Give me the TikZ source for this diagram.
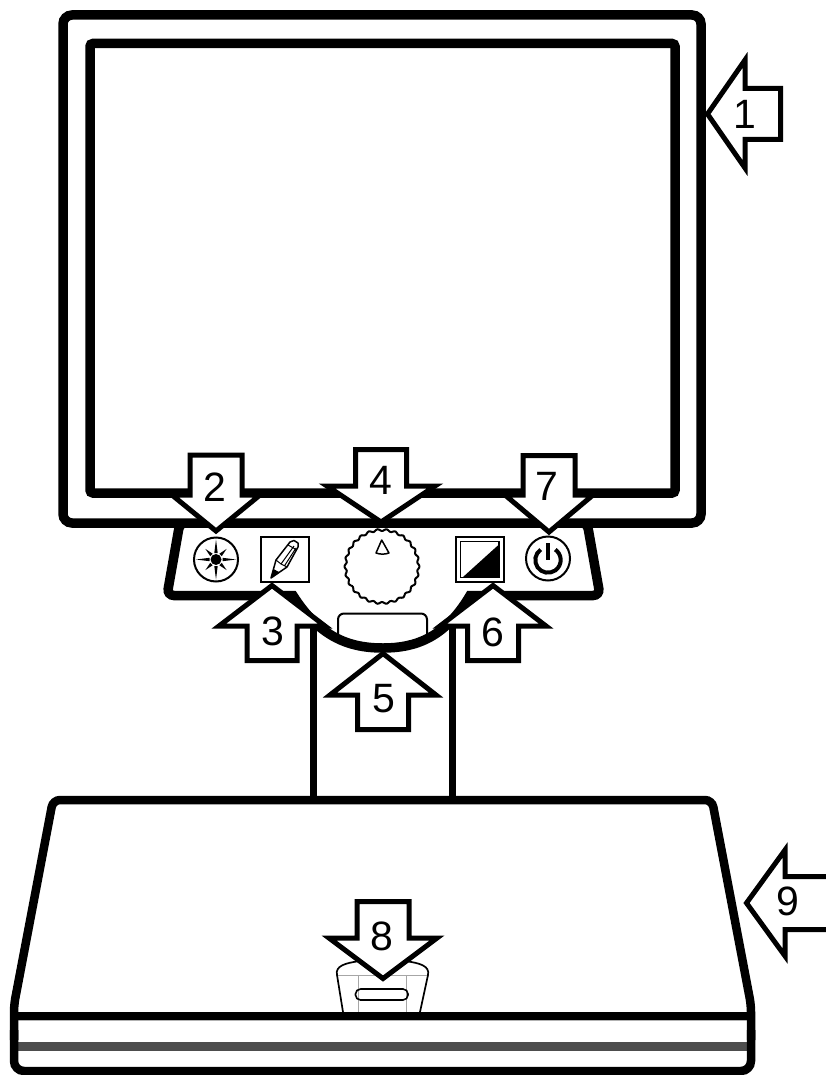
\documentclass[tikz,border=0pt]{standalone}
\usepackage{fontspec}
\setmainfont{Liberation Sans}
\usepackage{xcolor}
\definecolor{bandgray}{HTML}{4D4D4D}

\begin{document}
\begin{tikzpicture}[
		x=1pt,y=-1pt,
		outline/.style={draw,line width=9.5pt,fill=white,rounded corners=7pt},
		icon/.style={draw,line width=2pt,fill=white},
		callout/.style={draw,line width=5pt,fill=white,miter limit=10},
		digit/.style={inner sep=0pt,font=\fontsize{41}{41}\selectfont}
		]
		\useasboundingbox (0,0) rectangle (825,1075);
		% neck and control panel
		\draw[line width=7pt] (313,600)--(313,800);
		\draw[line width=7pt] (452,600)--(452,800);
		\draw[outline] (180,522)--(167,595.5)--(200,595.5)[sharp corners]--(293,595.5) .. controls (320,638) and (350,648) .. (383,648) .. controls (415,648) and (445,638) .. (470,595.5)--(560,595.5)[rounded corners=7pt]--(600,595.5)--(587,522)--cycle;
		\draw[line width=2pt,rounded corners=6pt] (338,636)--(338,613.5)--(427,613.5)--(427,636);
		% monitor
		\draw[outline,rounded corners=9pt] (63,15) rectangle (701,523);
		\draw[outline,rounded corners=3pt] (90,43.5) rectangle (675,493);
		% brightness icon
		\draw[icon] (216,559.5) circle (22);
		\fill (216,559.5) circle (5.5);
		\foreach \ang/\len in {0/20,45/15,90/20,135/15,180/20,225/15,270/20,315/15}
			\fill[shift={(216,559.5)},rotate=\ang] (6.5,-1.7)--(\len,0)--(6.5,1.7)--cycle;
		% pencil icon
		\draw[icon] (261,537) rectangle (309,581.5);
		\draw[line width=1.5pt,fill=white,line join=round] (271,578)--(276,560)--(290,542)--(294,540.5)--(298,543)--(298,547)--(287,567)--cycle;
		\fill (271,578)--(273.5,569)--(279,572)--cycle;
		\draw[line width=1pt] (276,560)--(281,564)--(287,567) (281,564)--(294,546) (285,565)--(296,548) (288,545)--(297,550);
		% dial
		\draw[line width=2pt,fill=white] plot[smooth,domain=0:360,samples=180] ({382+(36.5+1*cos(26*\x))*cos(\x)},{566.5+(36.5+1*cos(26*\x))*sin(\x)});
		\draw[line width=1.5pt,line join=round] (381.7,540)--(376,553) .. controls (380,554.5) and (385,554.5) .. (389,553)--cycle;
		% contrast icon
		\draw[icon] (456,537) rectangle (504,581.5);
		\draw[line width=1.2pt] (460.7,541.7) rectangle (499,577.7);
		\fill (498.4,545)--(498.4,577)--(463,577)--cycle;
		% power icon
		\draw[icon] (548,558.5) circle (22);
		\draw[line width=4pt] (540.7,549.6) arc[start angle=-125,end angle=-415,radius=12.7];
		\draw[line width=4pt] (548,543)--(548,560);
		% reader base
		\fill[bandgray] (18,1042) rectangle (747,1051);
		\draw[line width=1.7pt,fill=white] (343,1012)--(337,975) .. controls (335,966) and (345,963) .. (360,961)--(405,961) .. controls (420,963) and (430,966) .. (428,975)--(420,1012);
		\draw[gray!70,line width=0.8pt] (338,975.5)--(427,975.5);
		\draw[gray!70,line width=0.8pt] (358,975.5)--(358,1012);
		\draw[gray!70,line width=0.8pt] (406,975.5)--(406,1012);
		\draw[line width=1.6pt,rounded corners=5pt] (355.5,989)rectangle(408,1000);
		\draw[gray!60,line width=1pt] (18,1020.5)--(747,1020.5);
		\draw[line width=8.5pt,rounded corners=7pt] (14,1040)--(14,1005)--(53,800)--(712,800)--(751,1005)--(751,1040);
		\draw[line width=8.5pt,rounded corners=10pt] (14,1030)--(14,1071)--(751,1071)--(751,1030);
		\draw[line width=8.5pt] (14,1016)--(751,1016);
		% numbered arrows
		\foreach \tipx/\tipy/\ang/\headl/\headw/\shaftw/\len in {
			707.5/114/-90/37.5/54/25.5/73,746.5/903/-90/38.5/53/26.5/85,216/531/0/36/44/26/76,381/522/0/36/54/25.5/72.5,
			549/532/0/37/44/26/76.5,272/585.5/180/40.5/53/25/75,493/585.5/180/40.5/53/25.5/75,383/653.5/180/41.5/53/25.5/76,383/978.5/0/40.5/54/26/77}
			\draw[callout,shift={(\tipx,\tipy)},rotate=\ang] (0,0)--(-\headw,-\headl)--(-\shaftw,-\headl)--(-\shaftw,-\len)--(\shaftw,-\len)--(\shaftw,-\headl)--(\headw,-\headl)--cycle;
		\node[digit] (num1) at (745,114) {1};
		\node[digit] (num2) at (215,487) {2};
		\node[digit] (num3) at (273,631) {3};
		\node[digit] (num4) at (381,480) {4};
		\node[digit] (num5) at (384,699) {5};
		\node[digit] (num6) at (493,632) {6};
		\node[digit] (num7) at (547,486) {7};
		\node[digit] (num8) at (382,936) {8};
		\node[digit] (num9) at (788,901) {9};
	\end{tikzpicture}
\end{document}
